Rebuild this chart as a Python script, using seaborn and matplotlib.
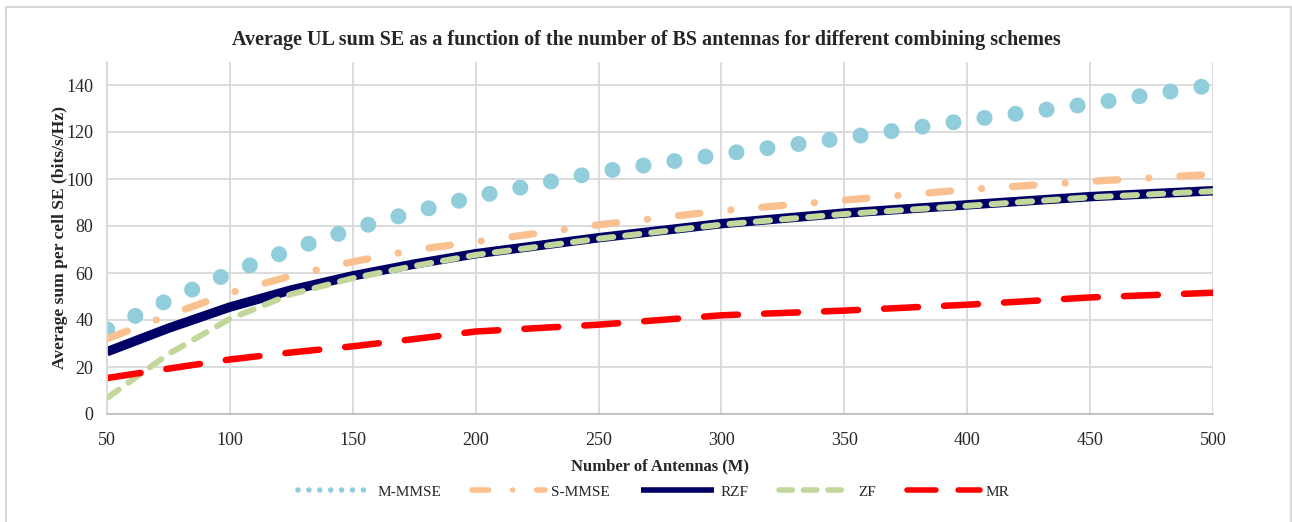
import matplotlib
matplotlib.use("Agg")
import matplotlib.pyplot as plt
import seaborn as sns
import pandas as pd
from matplotlib.patches import Rectangle

# number of BS antennas
antennas = [50, 75, 100, 125, 150, 175, 200, 250, 300, 350, 400, 450, 500]

# average UL sum SE per cell (bits/s/Hz)
m_mmse = [36, 48.5, 60, 70, 78.7, 86, 92.5, 103, 110.5, 117.5, 125, 132, 140]
s_mmse = [32, 42, 51.5, 58.8, 64.8, 69.8, 73.3, 80.5, 86.5, 91, 95.5, 99, 102]
rzf = [26.5, 36.5, 45.5, 52.8, 58.8, 63.8, 68.2, 75, 81, 85.5, 89, 92.5, 95]
zf = [6.8, 25.5, 40.5, 51, 57.8, 63, 67.7, 74.6, 80.6, 85.1, 88.6, 92.2, 94.8]
mr = [15.3, 19.3, 23.2, 26.2, 28.8, 31.9, 35.1, 38, 42, 44, 46.5, 49.6, 51.6]

names = ["M-MMSE", "S-MMSE", "RZF", "ZF", "MR"]
values = [m_mmse, s_mmse, rzf, zf, mr]
colors = ["#92CDDC", "#FAC090", "#000066", "#C3D69B", "#FF0000"]

df = pd.DataFrame({"M": antennas})
for n, v in zip(names, values):
    df[n] = v

sns.set_style("white")
plt.rcParams["font.family"] = ["Liberation Serif", "DejaVu Serif"]

fig = plt.figure(figsize=(12.92, 5.22), dpi=100)
ax = fig.add_axes([107 / 1292, 1 - 414 / 522, (1213 - 107) / 1292, (414 - 61.5) / 522])

# chart frame
fig.patches.append(Rectangle((6 / 1292, -0.05), 1285 / 1292, 1.05 - 7 / 522,
                             transform=fig.transFigure, fill=False,
                             edgecolor="#D9D9D9", lw=1.5))

styles = {
    "M-MMSE": dict(lw=11.5, linestyle=(0, (0.01, 1.95))),
    "S-MMSE": dict(lw=5.2, linestyle=(0, (3.0, 4.3, 0.01, 4.3))),
    "RZF": dict(lw=6.8, linestyle="-"),
    "ZF": dict(lw=4.3, linestyle=(0, (2.4, 2.0))),
    "MR": dict(lw=4.7, linestyle=(0, (5.2, 4.0))),
}

for n, c in zip(names, colors):
    sns.lineplot(data=df, x="M", y=n, ax=ax, color=c, label=n,
                 dash_capstyle="round", solid_capstyle="butt", **styles[n])

ax.set_xlim(50, 500)
ax.set_ylim(0, 150)
ax.set_xticks(range(50, 501, 50))
ax.set_yticks(range(0, 141, 20))
ax.grid(True, color="#D9D9D9", lw=1.3)
ax.set_axisbelow(True)
for s in ["top", "right"]:
    ax.spines[s].set_visible(False)
ax.spines["left"].set_color("#D9D9D9")
ax.spines["left"].set_linewidth(1.3)
ax.spines["bottom"].set_color("#BFBFBF")
ax.spines["bottom"].set_linewidth(1.3)
ax.tick_params(axis="both", length=0, labelsize=13)
ax.tick_params(axis="x", pad=13)
ax.tick_params(axis="y", pad=10)
for t in ax.get_xticklabels() + ax.get_yticklabels():
    t.set_color("#262626")

ax.set_xlabel("Number of Antennas (M)", fontsize=12, fontweight="bold", labelpad=7)
ax.set_ylabel("Average sum per cell SE (bits/s/Hz)", fontsize=12.6, fontweight="bold", labelpad=-1)
fig.text(0.5, 1 - 40 / 522,
         "Average UL sum SE as a function of the number of BS antennas for different combining schemes",
         ha="center", va="center", fontsize=14.5, fontweight="bold")

leg = ax.legend(loc="center", bbox_to_anchor=(654 / 1292, 1 - 492 / 522),
                bbox_transform=fig.transFigure, ncol=5, frameon=False,
                fontsize=11, handlelength=4.8, handletextpad=0.4, columnspacing=2.0)
for h in leg.get_lines():
    h.set_linewidth(4.0)

fig.savefig("out.png", dpi=100)
